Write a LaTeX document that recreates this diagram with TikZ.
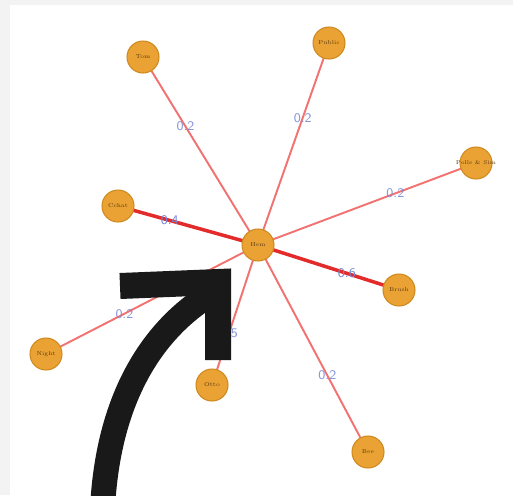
\documentclass[tikz,border=0pt]{standalone}
\usepackage{tikz}
\usetikzlibrary{calc}
\definecolor{frame}{HTML}{F3F3F3}
\definecolor{amber}{HTML}{E9A233}
\definecolor{amberdk}{HTML}{CF8A1E}
\definecolor{linkred}{HTML}{F05A5A}
\definecolor{linkdk}{HTML}{E32B2B}
\definecolor{wblue}{HTML}{7385D6}
\definecolor{inkdk}{HTML}{5A3A10}

\begin{document}
\begin{tikzpicture}[x=0.02cm,y=-0.02cm,
  vtx/.style={circle,fill=amber,draw=amberdk,line width=0.6pt,minimum size=0.64cm,inner sep=0pt,
    font=\fontsize{3.2}{3.5}\selectfont,text=inkdk},
  link/.style={draw=linkred,line width=1.1pt,opacity=.85},
  heavy/.style={draw=linkdk,line width=2pt},
  wlab/.style={font=\sffamily\fontsize{7.5}{8}\selectfont,text=wblue,inner sep=0pt}]
% frame
\fill[frame] (0,0) rectangle (513,495);
\fill[white] (10,5) rectangle (513,495);
\useasboundingbox (0,0) rectangle (513,495);
% links
\coordinate (c) at (258,245);
\foreach \nm/\x/\y/\st/\w in {tom/143/57/link/0.2,pub/329/43/link/0.2,pol/476/163/link/0.2,cch/118/206/heavy/0.4,bru/399/290/heavy/0.6,nig/46/354/link/0.2,ott/212/385/link/0.5,bee/368/452/link/0.2}{
  \coordinate (e-\nm) at (\x,\y);
  \draw[\st] (c) -- node[wlab,pos=0.63] {\w} (e-\nm);}
% vertices
\node[vtx] (hub) at (c) {Hem};
\foreach \nm/\txt in {tom/Tom,pub/Public,pol/Polls \& Sim,cch/Cchat,bru/Brush,nig/Night,ott/Otto,bee/Bee}
  \node[vtx] (\nm) at (e-\nm) {\makebox[0pt]{\txt}};
% big arrow
\draw[black!90,line width=0.5cm] (103,500) .. controls (110,400) and (150,330) .. (214,292);
\draw[black!90,line width=0.52cm,miter limit=4] (120,286) -- (218,282) -- (218,360);
\end{tikzpicture}
\end{document}
